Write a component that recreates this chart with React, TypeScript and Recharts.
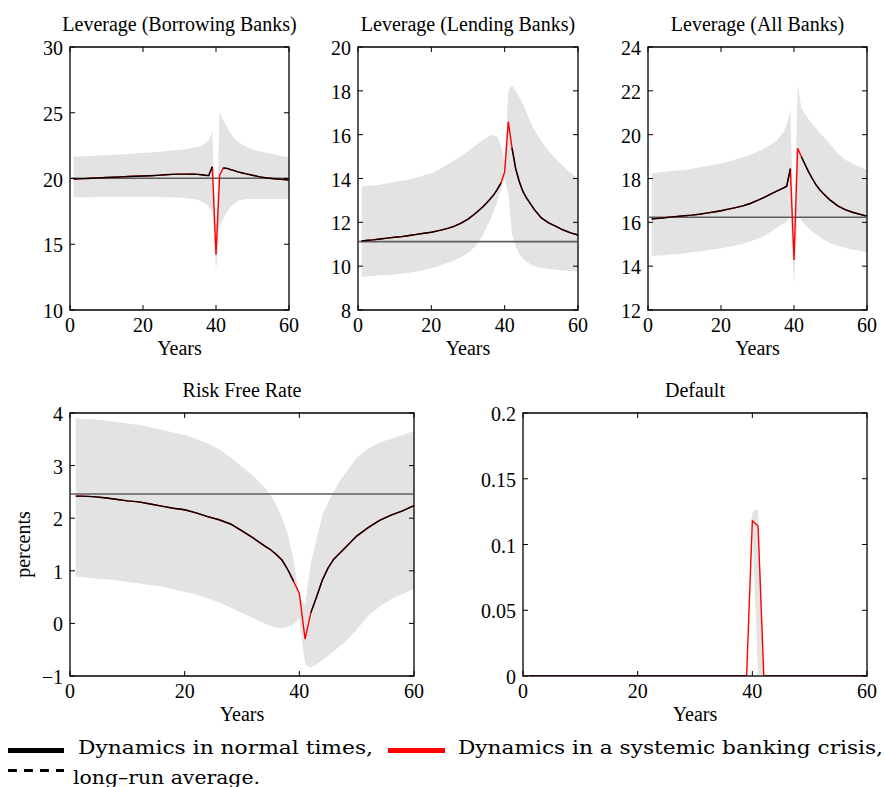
import React from 'react';
import { ComposedChart, Area, Line, XAxis, YAxis, ReferenceLine, ReferenceArea } from 'recharts';

// simulated years (shared by all panels)
const YEARS = [1, 2, 4, 6, 8, 10, 12, 14, 16, 18, 20, 22, 24, 26, 28, 30, 32, 34, 35, 36, 37, 38, 39, 40, 41, 42, 43, 44, 45, 46, 47, 48, 50, 52, 54, 56, 58, 60];
const X_TICKS = [0, 20, 40, 60];

// Leverage (Borrowing Banks)
const BORROW_CRISIS = [19.96, 19.97, 19.99, 20.02, 20.05, 20.08, 20.1, 20.12, 20.15, 20.17, 20.19, 20.21, 20.24, 20.28, 20.31, 20.33, 20.33, 20.32, 20.31, 20.28, 20.25, 20.22, 20.9, 14.2, 20.25, 20.8, 20.77, 20.68, 20.6, 20.5, 20.44, 20.37, 20.25, 20.12, 20.04, 19.98, 19.93, 19.88];
const BORROW_NORMAL = [19.96, 19.97, 19.99, 20.02, 20.05, 20.08, 20.1, 20.12, 20.15, 20.17, 20.19, 20.21, 20.24, 20.28, 20.31, 20.33, 20.33, 20.32, 20.31, 20.28, 20.25, 20.22, 20.9, null, null, 20.8, 20.77, 20.68, 20.6, 20.5, 20.44, 20.37, 20.25, 20.12, 20.04, 19.98, 19.93, 19.88];
const BORROW_HI = [21.66, 21.67, 21.7, 21.72, 21.75, 21.78, 21.8, 21.83, 21.86, 21.9, 21.93, 21.97, 22.02, 22.07, 22.12, 22.17, 22.25, 22.35, 22.4, 22.5, 22.65, 22.9, 23.6, 15.2, 25.1, 24.4, 23.95, 23.45, 23.05, 22.8, 22.6, 22.45, 22.2, 22.05, 21.95, 21.85, 21.72, 21.62];
const BORROW_LO = [18.57, 18.57, 18.58, 18.58, 18.59, 18.59, 18.6, 18.6, 18.6, 18.6, 18.6, 18.6, 18.59, 18.58, 18.57, 18.55, 18.5, 18.42, 18.36, 18.25, 18.1, 17.85, 17.5, 13.0, 16.3, 16.95, 17.45, 17.85, 18.1, 18.28, 18.38, 18.42, 18.46, 18.46, 18.45, 18.45, 18.45, 18.45];
const BORROW_AVG = 20.02;

// Leverage (Lending Banks)
const LEND_CRISIS = [11.16, 11.17, 11.2, 11.24, 11.28, 11.32, 11.35, 11.4, 11.45, 11.5, 11.55, 11.62, 11.7, 11.8, 11.95, 12.15, 12.4, 12.7, 12.87, 13.05, 13.25, 13.5, 13.8, 14.3, 16.6, 15.4, 14.45, 13.85, 13.4, 13.1, 12.85, 12.6, 12.2, 11.98, 11.82, 11.65, 11.52, 11.42];
const LEND_NORMAL = [11.16, 11.17, 11.2, 11.24, 11.28, 11.32, 11.35, 11.4, 11.45, 11.5, 11.55, 11.62, 11.7, 11.8, 11.95, 12.15, 12.4, 12.7, 12.87, 13.05, 13.25, 13.5, 13.8, null, null, 15.4, 14.45, 13.85, 13.4, 13.1, 12.85, 12.6, 12.2, 11.98, 11.82, 11.65, 11.52, 11.42];
const LEND_HI = [13.63, 13.66, 13.68, 13.72, 13.78, 13.85, 13.9, 13.96, 14.05, 14.15, 14.24, 14.4, 14.6, 14.8, 15.0, 15.25, 15.5, 15.75, 15.85, 15.95, 15.98, 15.9, 15.5, 14.8, 18.0, 18.27, 18.0, 17.7, 17.4, 17.0, 16.6, 16.25, 15.7, 15.25, 14.9, 14.55, 14.25, 14.0];
const LEND_LO = [9.52, 9.53, 9.55, 9.58, 9.6, 9.62, 9.66, 9.7, 9.76, 9.82, 9.9, 10.0, 10.12, 10.25, 10.4, 10.6, 10.9, 11.4, 11.75, 12.1, 12.5, 12.95, 13.5, 14.0, 13.3, 11.5, 10.9, 10.55, 10.35, 10.2, 10.1, 10.0, 9.92, 9.88, 9.84, 9.8, 9.78, 9.75];
const LEND_AVG = 11.12;

// Leverage (All Banks)
const ALL_CRISIS = [16.15, 16.17, 16.2, 16.24, 16.27, 16.3, 16.33, 16.37, 16.42, 16.47, 16.53, 16.6, 16.67, 16.75, 16.86, 17.0, 17.15, 17.32, 17.4, 17.48, 17.56, 17.65, 18.45, 14.28, 19.38, 19.0, 18.65, 18.3, 18.0, 17.72, 17.5, 17.32, 17.0, 16.75, 16.58, 16.46, 16.37, 16.28];
const ALL_NORMAL = [16.15, 16.17, 16.2, 16.24, 16.27, 16.3, 16.33, 16.37, 16.42, 16.47, 16.53, 16.6, 16.67, 16.75, 16.86, 17.0, 17.15, 17.32, 17.4, 17.48, 17.56, 17.65, 18.45, null, null, 19.0, 18.65, 18.3, 18.0, 17.72, 17.5, 17.32, 17.0, 16.75, 16.58, 16.46, 16.37, 16.28];
const ALL_HI = [18.24, 18.26, 18.3, 18.33, 18.36, 18.39, 18.45, 18.5, 18.57, 18.63, 18.69, 18.78, 18.87, 18.97, 19.08, 19.22, 19.38, 19.58, 19.7, 19.88, 20.1, 20.45, 21.1, 15.0, 22.3, 21.2, 20.95, 20.7, 20.5, 20.3, 20.1, 19.92, 19.55, 19.15, 18.85, 18.68, 18.52, 18.38];
const ALL_LO = [14.47, 14.48, 14.5, 14.53, 14.56, 14.59, 14.63, 14.67, 14.72, 14.77, 14.82, 14.88, 14.94, 15.02, 15.12, 15.25, 15.4, 15.6, 15.72, 15.85, 15.92, 16.0, 16.4, 13.1, 16.3, 16.1, 15.9, 15.72, 15.58, 15.45, 15.35, 15.22, 15.05, 14.93, 14.84, 14.76, 14.7, 14.65];
const ALL_AVG = 16.23;

// Risk Free Rate (percents)
const RATE_CRISIS = [2.42, 2.42, 2.41, 2.39, 2.36, 2.33, 2.31, 2.27, 2.23, 2.19, 2.16, 2.1, 2.03, 1.97, 1.89, 1.76, 1.62, 1.47, 1.4, 1.31, 1.2, 1.02, 0.8, 0.57, -0.3, 0.2, 0.5, 0.82, 1.05, 1.22, 1.33, 1.44, 1.66, 1.82, 1.96, 2.06, 2.14, 2.24];
const RATE_NORMAL = [2.42, 2.42, 2.41, 2.39, 2.36, 2.33, 2.31, 2.27, 2.23, 2.19, 2.16, 2.1, 2.03, 1.97, 1.89, 1.76, 1.62, 1.47, 1.4, 1.31, 1.2, 1.02, 0.8, null, null, 0.2, 0.5, 0.82, 1.05, 1.22, 1.33, 1.44, 1.66, 1.82, 1.96, 2.06, 2.14, 2.24];
const RATE_HI = [3.9, 3.89, 3.88, 3.86, 3.83, 3.8, 3.77, 3.73, 3.68, 3.63, 3.58, 3.51, 3.42, 3.31, 3.16, 2.98, 2.8, 2.58, 2.43, 2.25, 2.0, 1.7, 1.2, 0.5, 0.35, 1.15, 1.6, 2.05, 2.3, 2.5, 2.7, 2.85, 3.15, 3.32, 3.44, 3.51, 3.58, 3.66];
const RATE_LO = [0.89, 0.88, 0.86, 0.84, 0.82, 0.79, 0.76, 0.73, 0.7, 0.65, 0.6, 0.55, 0.48, 0.4, 0.3, 0.2, 0.1, 0.0, -0.05, -0.08, -0.09, -0.07, -0.02, 0.1, -0.78, -0.84, -0.78, -0.7, -0.62, -0.53, -0.44, -0.35, -0.12, 0.14, 0.32, 0.46, 0.56, 0.66];
const RATE_AVG = 2.46;

// Default
const DEF_CRISIS = [0, 0, 0, 0, 0, 0, 0, 0, 0, 0, 0, 0, 0, 0, 0, 0, 0, 0, 0, 0, 0, 0, 0, 0.118, 0.114, 0, 0, 0, 0, 0, 0, 0, 0, 0, 0, 0, 0, 0];
const DEF_NORMAL = [0, 0, 0, 0, 0, 0, 0, 0, 0, 0, 0, 0, 0, 0, 0, 0, 0, 0, 0, 0, 0, 0, 0, null, null, 0, 0, 0, 0, 0, 0, 0, 0, 0, 0, 0, 0, 0];
const DEF_HI = [0, 0, 0, 0, 0, 0, 0, 0, 0, 0, 0, 0, 0, 0, 0, 0, 0, 0, 0, 0, 0, 0, 0, 0.125, 0.127, 0, 0, 0, 0, 0, 0, 0, 0, 0, 0, 0, 0, 0];
const DEF_LO = [0, 0, 0, 0, 0, 0, 0, 0, 0, 0, 0, 0, 0, 0, 0, 0, 0, 0, 0, 0, 0, 0, 0, 0.112, 0, 0, 0, 0, 0, 0, 0, 0, 0, 0, 0, 0, 0, 0];
const DEF_AVG = 0;

const FONT = '"Liberation Serif", "Times New Roman", serif';
const TICK_LEN = 5;

function buildRows(normal: (number | null)[], crisis: number[], lo: number[], hi: number[]) {
  return YEARS.map((year, i) => ({ year, normal: normal[i], crisis: crisis[i], band: [lo[i], hi[i]] }));
}

const fmtTick = (v: number) => (v < 0 ? '\u2212' + Math.abs(v) : String(v));

function XTick(props: any) {
  const { x, y, payload, plotTop } = props;
  return (
    <g>
      <line x1={x} x2={x} y1={y} y2={y - TICK_LEN} stroke="#000" />
      <line x1={x} x2={x} y1={plotTop} y2={plotTop + TICK_LEN} stroke="#000" />
      <text x={x} y={y + 22} textAnchor="middle" fontFamily={FONT} fontSize={20} fill="#000">
        {fmtTick(payload.value)}
      </text>
    </g>
  );
}

function YTick(props: any) {
  const { x, y, payload, plotRight } = props;
  return (
    <g>
      <line x1={x} x2={x + TICK_LEN} y1={y} y2={y} stroke="#000" />
      <line x1={plotRight} x2={plotRight - TICK_LEN} y1={y} y2={y} stroke="#000" />
      <text x={x - 7} y={y + 8} textAnchor="end" fontFamily={FONT} fontSize={20} fill="#000">
        {fmtTick(payload.value)}
      </text>
    </g>
  );
}

type Plot = { left: number; right: number; top: number; bottom: number };

interface PanelProps {
  box: { left: number; top: number; width: number; height: number };
  plot: Plot;
  rows: any[];
  yDomain: [number, number];
  yTicks: number[];
  avg: number;
}

function Panel({ box, plot, rows, yDomain, yTicks, avg }: PanelProps) {
  const margin = { top: plot.top - box.top, right: box.left + box.width - plot.right, left: 0, bottom: 0 };
  const plotTop = margin.top;
  const plotRight = box.width - margin.right;
  return (
    <div style={{ position: 'absolute', left: box.left, top: box.top, width: box.width, height: box.height }}>
      <ComposedChart width={box.width} height={box.height} data={rows} margin={margin}>
        <XAxis
          dataKey="year"
          type="number"
          domain={[0, 60]}
          ticks={X_TICKS}
          interval={0}
          axisLine={false}
          tickLine={false}
          tickSize={0}
          tickMargin={0}
          height={box.top + box.height - plot.bottom}
          tick={(p: any) => <XTick {...p} plotTop={plotTop} />}
        />
        <YAxis
          type="number"
          domain={yDomain}
          ticks={yTicks}
          interval={0}
          allowDataOverflow
          axisLine={false}
          tickLine={false}
          tickSize={0}
          tickMargin={0}
          width={plot.left - box.left}
          tick={(p: any) => <YTick {...p} plotRight={plotRight} />}
        />
        <Area dataKey="band" type="linear" stroke="none" fill="#e3e3e3" fillOpacity={1} isAnimationActive={false} />
        <ReferenceLine y={avg} stroke="#5c5c5c" strokeWidth={1.6} />
        <Line dataKey="crisis" type="linear" stroke="#ff0000" strokeWidth={1.4} dot={false} isAnimationActive={false} />
        <Line dataKey="normal" type="linear" stroke="#000" strokeWidth={1.4} dot={false} isAnimationActive={false} />
        <ReferenceArea x1={0} x2={60} y1={yDomain[0]} y2={yDomain[1]} fill="none" stroke="#000" strokeWidth={1.3} />
      </ComposedChart>
    </div>
  );
}

const P1: Plot = { left: 70, right: 289, top: 47, bottom: 310 };
const P2: Plot = { left: 358, right: 578, top: 47, bottom: 310 };
const P3: Plot = { left: 648, right: 867, top: 47, bottom: 310 };
const P4: Plot = { left: 70, right: 414, top: 413, bottom: 676 };
const P5: Plot = { left: 523, right: 867, top: 413, bottom: 676 };

const TITLES: [Plot, string][] = [
  [P1, 'Leverage (Borrowing Banks)'],
  [P2, 'Leverage (Lending Banks)'],
  [P3, 'Leverage (All Banks)'],
  [P4, 'Risk Free Rate'],
  [P5, 'Default'],
];

const LEGEND_FONT = '"DejaVu Serif", "Liberation Serif", serif';

export default function App() {
  return (
    <div style={{ position: 'absolute', left: 0, top: 0, width: 885, height: 787, background: '#fff' }}>
      <Panel box={{ left: 0, top: 0, width: 300, height: 370 }} plot={P1} rows={buildRows(BORROW_NORMAL, BORROW_CRISIS, BORROW_LO, BORROW_HI)} yDomain={[10, 30]} yTicks={[10, 15, 20, 25, 30]} avg={BORROW_AVG} />
      <Panel box={{ left: 295, top: 0, width: 295, height: 370 }} plot={P2} rows={buildRows(LEND_NORMAL, LEND_CRISIS, LEND_LO, LEND_HI)} yDomain={[8, 20]} yTicks={[8, 10, 12, 14, 16, 18, 20]} avg={LEND_AVG} />
      <Panel box={{ left: 590, top: 0, width: 295, height: 370 }} plot={P3} rows={buildRows(ALL_NORMAL, ALL_CRISIS, ALL_LO, ALL_HI)} yDomain={[12, 24]} yTicks={[12, 14, 16, 18, 20, 22, 24]} avg={ALL_AVG} />
      <Panel box={{ left: 0, top: 370, width: 440, height: 360 }} plot={P4} rows={buildRows(RATE_NORMAL, RATE_CRISIS, RATE_LO, RATE_HI)} yDomain={[-1, 4]} yTicks={[-1, 0, 1, 2, 3, 4]} avg={RATE_AVG} />
      <Panel box={{ left: 440, top: 370, width: 445, height: 360 }} plot={P5} rows={buildRows(DEF_NORMAL, DEF_CRISIS, DEF_LO, DEF_HI)} yDomain={[0, 0.2]} yTicks={[0, 0.05, 0.1, 0.15, 0.2]} avg={DEF_AVG} />
      <svg width={885} height={787} style={{ position: 'absolute', left: 0, top: 0, pointerEvents: 'none' }}>
        {TITLES.map(([p, t]) => (
          <g key={t}>
            <text x={(p.left + p.right) / 2} y={p.top - 16} textAnchor="middle" fontFamily={FONT} fontSize={20} fill="#000">{t}</text>
            <text x={(p.left + p.right) / 2} y={p.bottom + 45} textAnchor="middle" fontFamily={FONT} fontSize={20} fill="#000">Years</text>
          </g>
        ))}
        <text transform={`translate(30, ${(P4.top + P4.bottom) / 2}) rotate(-90)`} textAnchor="middle" fontFamily={FONT} fontSize={20} fill="#000">percents</text>
        <line x1={8} x2={64} y1={750.5} y2={750.5} stroke="#000" strokeWidth={5} />
        <text x={78} y={753.5} fontFamily={LEGEND_FONT} fontSize={19} textLength={295} lengthAdjust="spacingAndGlyphs" fill="#000">Dynamics in normal times,</text>
        <line x1={388} x2={445} y1={750.5} y2={750.5} stroke="#ff0000" strokeWidth={5} />
        <text x={458} y={753.5} fontFamily={LEGEND_FONT} fontSize={19} textLength={425} lengthAdjust="spacingAndGlyphs" fill="#000">Dynamics in a systemic banking crisis,</text>
        <line x1={8} x2={64} y1={770.5} y2={770.5} stroke="#000" strokeWidth={3} strokeDasharray="9 7" />
        <text x={73} y={783.5} fontFamily={LEGEND_FONT} fontSize={19} textLength={187} lengthAdjust="spacingAndGlyphs" fill="#000">long–run average.</text>
      </svg>
    </div>
  );
}
